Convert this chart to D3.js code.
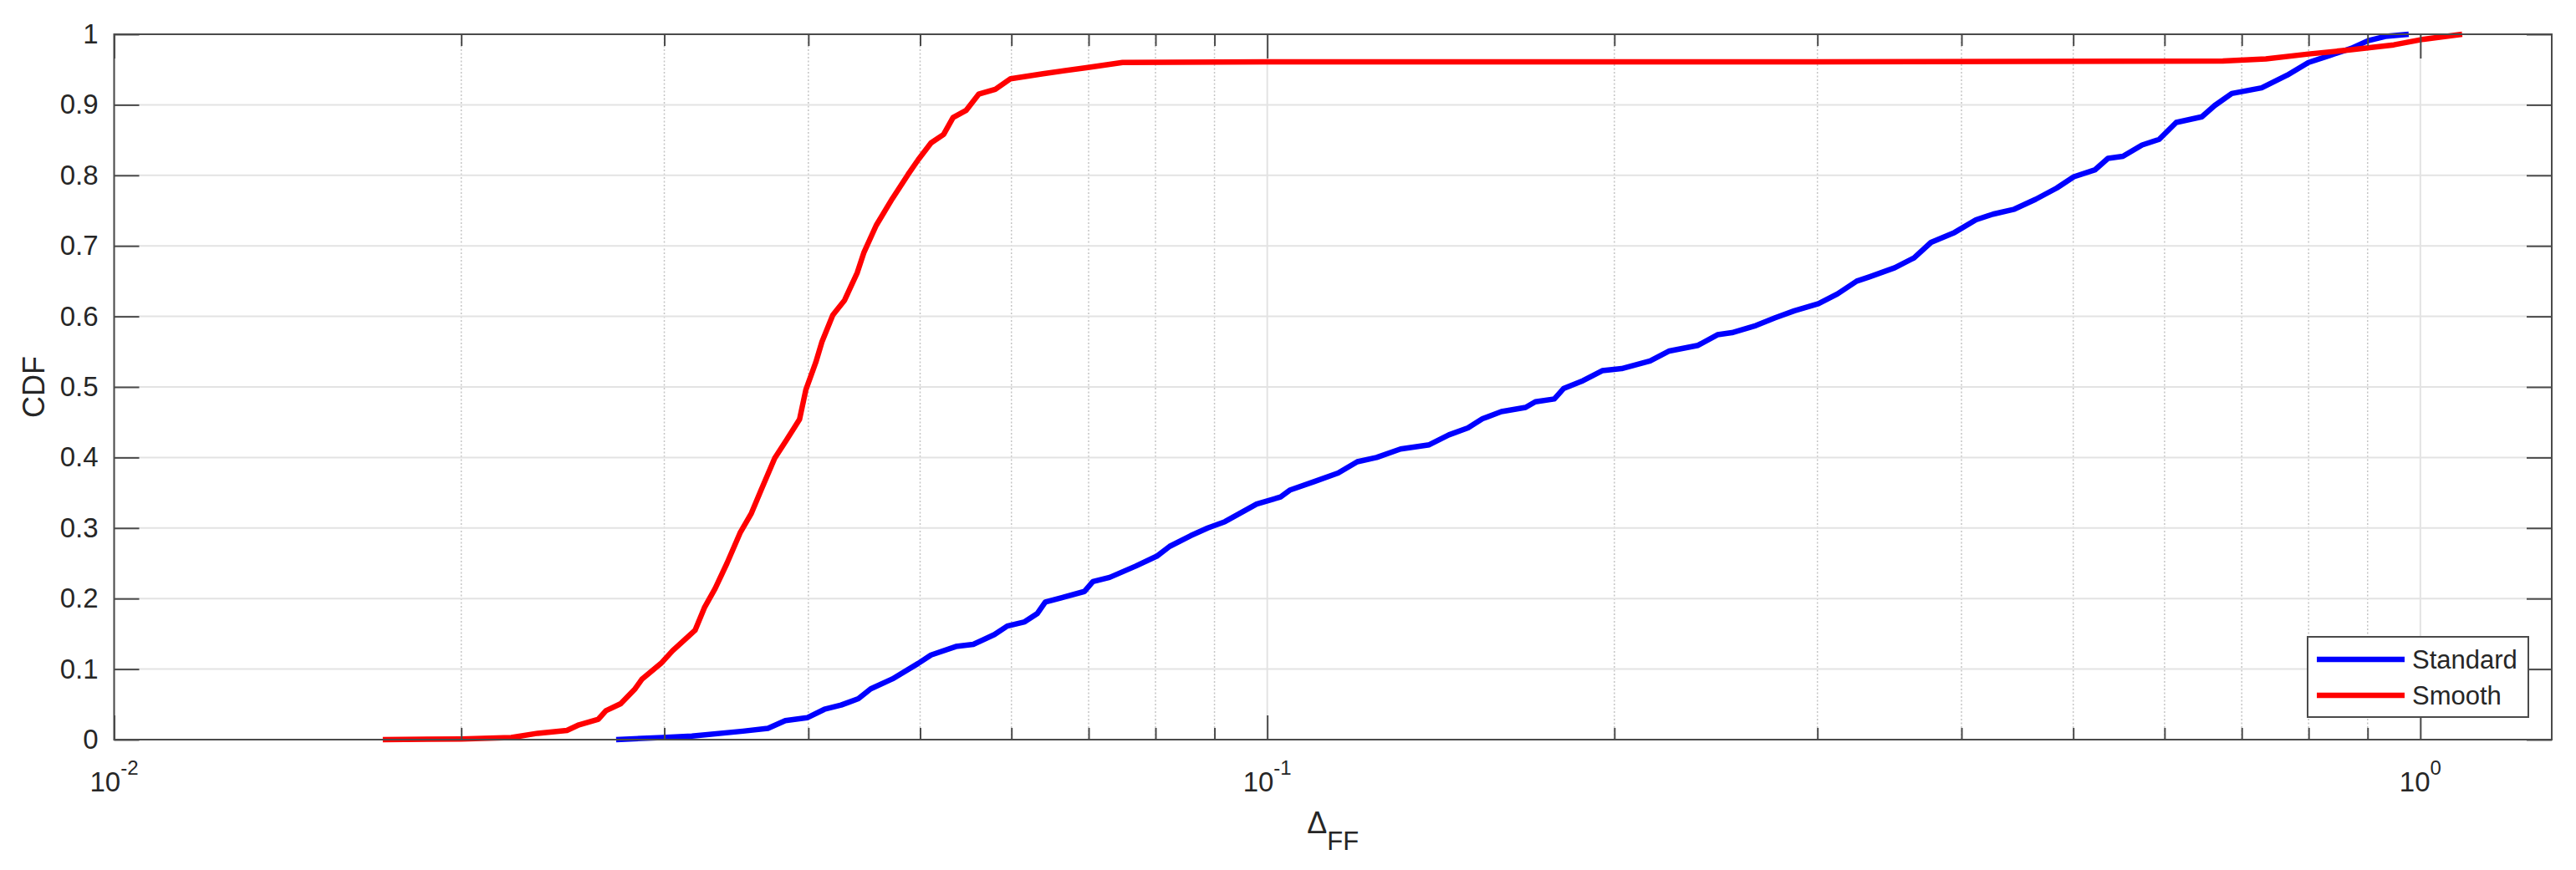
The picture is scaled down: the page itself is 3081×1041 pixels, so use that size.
<!DOCTYPE html>
<html>
<head>
<meta charset="utf-8">
<title>CDF</title>
<style>
  body { margin: 0; background: #fff; }
  text { font-family: "Liberation Sans", Arial, sans-serif; fill: #262626; }
</style>
</head>
<body>
<div id="chart"></div>
<script src="https://d3js.org/d3.v7.min.js"></script>
<script>
// values (Δ_FF on log x, CDF on y)
const standardX = [0.02725, 0.0299, 0.0317, 0.0351, 0.0369, 0.0382, 0.0399, 0.0413, 0.0427, 0.0442,
  0.0453, 0.0473, 0.0498, 0.0511, 0.0537, 0.0556, 0.0580, 0.0595, 0.0616, 0.0632,
  0.0642, 0.0694, 0.0706, 0.0730, 0.0769, 0.0802, 0.0823, 0.0858, 0.0888, 0.0919,
  0.0979, 0.1027, 0.1047, 0.1099, 0.1152, 0.1197, 0.1244, 0.1305, 0.1382, 0.1437,
  0.1493, 0.1537, 0.1596, 0.1675, 0.1708, 0.1774, 0.1808, 0.1879, 0.1952, 0.2029,
  0.2148, 0.2232, 0.2364, 0.2457, 0.2529, 0.2653, 0.2757, 0.2865, 0.3006, 0.3123,
  0.3245, 0.3327, 0.3501, 0.3638, 0.3764, 0.3945, 0.4117, 0.4260, 0.4445, 0.4638,
  0.4838, 0.5006, 0.5224, 0.5359, 0.5522, 0.5737, 0.5936, 0.6142, 0.6464, 0.6632,
  0.6862, 0.7283, 0.7665, 0.7998, 0.8345, 0.8710, 0.9011, 0.9325, 0.977];
const standardCdf = [0, 0.003, 0.005, 0.012, 0.016, 0.027, 0.031, 0.043, 0.049, 0.058,
  0.072, 0.086, 0.108, 0.120, 0.132, 0.135, 0.149, 0.161, 0.167, 0.179,
  0.195, 0.210, 0.224, 0.230, 0.246, 0.260, 0.274, 0.289, 0.300, 0.309,
  0.334, 0.344, 0.354, 0.366, 0.378, 0.394, 0.400, 0.412, 0.418, 0.432,
  0.442, 0.455, 0.465, 0.471, 0.479, 0.483, 0.498, 0.509, 0.523, 0.526,
  0.537, 0.551, 0.559, 0.574, 0.577, 0.587, 0.598, 0.608, 0.618, 0.632,
  0.650, 0.656, 0.669, 0.683, 0.705, 0.719, 0.737, 0.745, 0.752, 0.766,
  0.782, 0.798, 0.808, 0.824, 0.827, 0.843, 0.851, 0.875, 0.883, 0.899,
  0.916, 0.924, 0.942, 0.960, 0.970, 0.980, 0.991, 0.997, 1.0];

const smoothX = [0.0171, 0.0200, 0.0221, 0.0233, 0.0247, 0.0253, 0.0263, 0.0267, 0.0275, 0.0283,
  0.0287, 0.0298, 0.0305, 0.0319, 0.0325, 0.0332, 0.0340, 0.0349, 0.0357, 0.0364,
  0.0374, 0.0383, 0.0393, 0.0398, 0.0406, 0.0411, 0.0420, 0.0430, 0.0441, 0.0447,
  0.0458, 0.0473, 0.0488, 0.0498, 0.0511, 0.0524, 0.0534, 0.0548, 0.0562, 0.0581,
  0.0599, 0.0639, 0.0699, 0.0749, 0.10, 0.30, 0.674, 0.7345, 0.7998, 0.8710,
  0.9484, 1.0067, 1.087];
const smoothCdf = [0, 0.001, 0.003, 0.009, 0.013, 0.021, 0.029, 0.041, 0.051, 0.072,
  0.086, 0.108, 0.126, 0.155, 0.187, 0.214, 0.250, 0.293, 0.321, 0.354,
  0.399, 0.425, 0.454, 0.496, 0.535, 0.564, 0.602, 0.623, 0.662, 0.691,
  0.729, 0.767, 0.801, 0.822, 0.846, 0.858, 0.882, 0.892, 0.915, 0.922,
  0.937, 0.944, 0.953, 0.960, 0.961, 0.961, 0.962, 0.965, 0.972, 0.978,
  0.985, 0.993, 1.0];

const seriesNames = ['Standard', 'Smooth'];
const seriesColors = ['#0000ff', '#ff0000'];
const xMajorTicks = [0.01, 0.1, 1];
const xExponents = ['-2', '-1', '0'];
const yTicks = d3.range(0, 11).map(i => i / 10);

const width = 3081;
const height = 1041;
const margin = { top: 41, right: 29, bottom: 156, left: 136.5 };
const plotW = width - margin.left - margin.right;
const plotH = height - margin.top - margin.bottom;

const x = d3.scaleLog().domain([0.01, 1.3]).range([0, plotW]);
const y = d3.scaleLinear().domain([0, 1]).range([plotH, 0]);

// minor ticks 2..9 of each decade inside the domain
const xMinorTicks = [];
[0.01, 0.1].forEach(d => {
    for (let k = 2; k <= 9; k++) xMinorTicks.push(d * k);
});

const svg = d3.select('#chart')
    .append('svg')
    .attr('width', width)
    .attr('height', height);

const g = svg.append('g')
    .attr('transform', `translate(${margin.left},${margin.top})`);

// grid
g.append('g').selectAll('line')
    .data(xMinorTicks)
    .enter().append('line')
    .attr('x1', d => x(d)).attr('x2', d => x(d))
    .attr('y1', 0).attr('y2', plotH)
    .attr('stroke', '#c4c4c4')
    .attr('stroke-width', 1.5)
    .attr('stroke-dasharray', '2,2.5');

g.append('g').selectAll('line')
    .data(xMajorTicks)
    .enter().append('line')
    .attr('x1', d => x(d)).attr('x2', d => x(d))
    .attr('y1', 0).attr('y2', plotH)
    .attr('stroke', '#e3e3e3')
    .attr('stroke-width', 2);

g.append('g').selectAll('line')
    .data(yTicks)
    .enter().append('line')
    .attr('x1', 0).attr('x2', plotW)
    .attr('y1', d => y(d)).attr('y2', d => y(d))
    .attr('stroke', '#e3e3e3')
    .attr('stroke-width', 2);

// curves
const line = d3.line()
    .x(d => x(d[0]))
    .y(d => y(d[1]));

const series = [
    d3.zip(standardX, standardCdf),
    d3.zip(smoothX, smoothCdf)
];

g.selectAll('.curve')
    .data(series)
    .enter().append('path')
    .attr('class', 'curve')
    .attr('d', line)
    .attr('fill', 'none')
    .attr('stroke', (d, i) => seriesColors[i])
    .attr('stroke-width', 6.5)
    .attr('stroke-linejoin', 'round');

// axes, ticks pointing inward on all four sides
const axisColor = '#4a4a4a';
function styleAxis(sel) {
    sel.select('.domain').remove();
    sel.selectAll('.tick line').attr('stroke', axisColor).attr('stroke-width', 2);
    sel.selectAll('.tick text').remove();
}

g.append('g').attr('transform', `translate(0,${plotH})`)
    .call(d3.axisBottom(x).tickValues(xMajorTicks).tickSizeInner(-29).tickSizeOuter(0))
    .call(styleAxis);
g.append('g').attr('transform', `translate(0,${plotH})`)
    .call(d3.axisBottom(x).tickValues(xMinorTicks).tickSizeInner(-14).tickSizeOuter(0))
    .call(styleAxis);
g.append('g')
    .call(d3.axisTop(x).tickValues(xMajorTicks).tickSizeInner(-29).tickSizeOuter(0))
    .call(styleAxis);
g.append('g')
    .call(d3.axisTop(x).tickValues(xMinorTicks).tickSizeInner(-14).tickSizeOuter(0))
    .call(styleAxis);
g.append('g').attr('transform', `translate(${plotW},0)`)
    .call(d3.axisRight(y).tickValues(yTicks).tickSizeInner(-30).tickSizeOuter(0))
    .call(styleAxis);

const yAxis = g.append('g')
    .call(d3.axisLeft(y).tickValues(yTicks).tickSizeInner(-30).tickSizeOuter(0)
        .tickPadding(19).tickFormat(d3.format('')));
yAxis.select('.domain').remove();
yAxis.selectAll('.tick line').attr('stroke', axisColor).attr('stroke-width', 2);
yAxis.selectAll('.tick text')
    .attr('font-size', 33)
    .attr('font-family', '"Liberation Sans", Arial, sans-serif')
    .attr('fill', '#262626');

// box
g.append('rect')
    .attr('width', plotW).attr('height', plotH)
    .attr('fill', 'none')
    .attr('stroke', axisColor)
    .attr('stroke-width', 2);

// x tick labels 10^n
const xl = g.append('g').selectAll('text')
    .data(xMajorTicks)
    .enter().append('text')
    .attr('x', d => x(d))
    .attr('y', plotH + 62)
    .attr('text-anchor', 'middle')
    .attr('font-size', 33);
xl.append('tspan').text('10');
xl.append('tspan')
    .attr('font-size', 24)
    .attr('dy', -20)
    .text((d, i) => xExponents[i]);

// axis labels
const xLabel = g.append('text')
    .attr('x', plotW / 2)
    .attr('y', plotH + 112)
    .attr('text-anchor', 'middle')
    .attr('font-size', 36);
xLabel.append('tspan').text('Δ');
xLabel.append('tspan').attr('font-size', 31).attr('dy', 20).text('FF');

g.append('text')
    .attr('transform', `translate(${53 - margin.left},${plotH / 2}) rotate(-90)`)
    .attr('text-anchor', 'middle')
    .attr('font-size', 36)
    .text('CDF');

// legend
const legend = svg.append('g').attr('transform', 'translate(2760,762)');
legend.append('rect')
    .attr('width', 264).attr('height', 96)
    .attr('fill', '#fff')
    .attr('stroke', axisColor)
    .attr('stroke-width', 2);
const item = legend.selectAll('.item')
    .data(seriesNames)
    .enter().append('g')
    .attr('class', 'item')
    .attr('transform', (d, i) => `translate(0,${27 + i * 43})`);
item.append('line')
    .attr('x1', 11).attr('x2', 116)
    .attr('stroke', (d, i) => seriesColors[i])
    .attr('stroke-width', 6.5);
item.append('text')
    .attr('x', 125)
    .attr('y', 11)
    .attr('font-size', 31)
    .text(d => d);
</script>
</body>
</html>
